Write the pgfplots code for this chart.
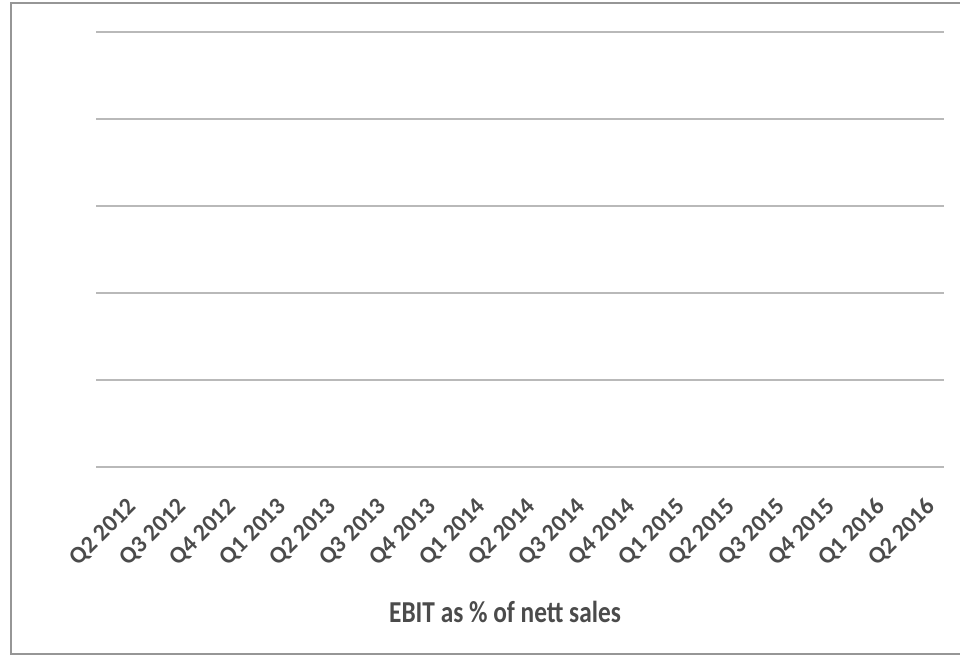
\documentclass[border=0pt]{standalone}
\usepackage{pgfplots}
\pgfplotsset{compat=1.18}
\usepackage{fontspec}
\setmainfont{Carlito}
\definecolor{gridgray}{RGB}{185,185,185}
\definecolor{framegray}{RGB}{150,150,150}
\definecolor{txtgray}{RGB}{75,75,75}
\begin{document}
\begin{tikzpicture}[x=0.75pt,y=0.75pt]
\path[use as bounding box] (0,0) rectangle (960,656);
% outer chart frame (right side falls outside the image)
\draw[framegray, line width=1.5pt] (965,653.3) -- (10.5,653.3) -- (10.5,2) -- (965,2);
\begin{axis}[
  at={(72pt,141.75pt)}, anchor=south west,
  scale only axis,
  width=636pt, height=326.25pt,
  xmin=-0.5, xmax=16.5, ymin=0, ymax=5,
  xtick={0,...,16},
  xticklabels={Q2 2012,Q3 2012,Q4 2012,Q1 2013,Q2 2013,Q3 2013,Q4 2013,Q1 2014,Q2 2014,Q3 2014,Q4 2014,Q1 2015,Q2 2015,Q3 2015,Q4 2015,Q1 2016,Q2 2016},
  xticklabel style={xshift=4pt, yshift=-22pt, rotate=45, anchor=north east, font=\fontsize{18pt}{20pt}\selectfont\bfseries, text=txtgray, inner sep=0pt},
  ytick={0,1,2,3,4,5}, yticklabels={},
  ymajorgrids, major grid style={gridgray, line width=1.1pt},
  major tick length=0pt,
  axis line style={draw=none},
  clip=false,
]
\end{axis}
\node[text=txtgray, font=\fontsize{19pt}{22pt}\selectfont\bfseries, anchor=base, inner sep=0pt] at (505,33) {\scalebox{1}[1.2]{EBIT as \% of nett sales}};
\end{tikzpicture}
\end{document}
